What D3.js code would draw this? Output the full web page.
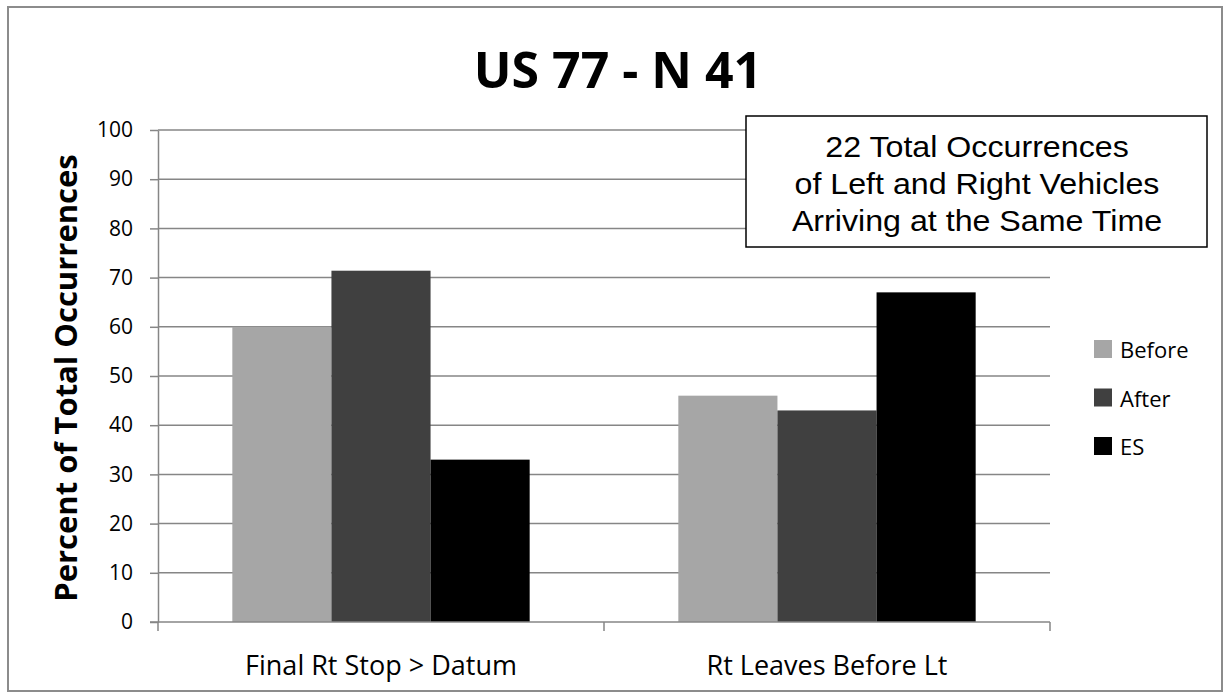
<!DOCTYPE html>
<html>
<head>
<meta charset="utf-8">
<script src="https://cdn.jsdelivr.net/npm/d3@7"></script>
<style>
  body { margin: 0; background: #fff; }
  svg { display: block; }
</style>
</head>
<body>
<svg width="1230" height="698"></svg>
<script>
// chart data
var categories = ['Final Rt Stop > Datum', 'Rt Leaves Before Lt'];
var seriesNames = ['Before', 'After', 'ES'];
var before = [60, 46];
var after = [71.4, 43];
var es = [33, 67];
var yTicks = [0, 10, 20, 30, 40, 50, 60, 70, 80, 90, 100];
var noteLines = ['22 Total Occurrences', 'of Left and Right Vehicles', 'Arriving at the Same Time'];

var colors = ['#a6a6a6', '#404040', '#000000'];
var seriesValues = [before, after, es];

var svg = d3.select('svg');
var font = '"Open Sans", "Noto Sans", sans-serif';

// outer frame
svg.append('rect')
  .attr('x', 8).attr('y', 7)
  .attr('width', 1214).attr('height', 684)
  .attr('fill', '#fff')
  .attr('stroke', '#8c8c8c')
  .attr('stroke-width', 2);

var plotL = 158, plotR = 1050, plotT = 130, plotB = 622;

var x0 = d3.scaleBand().domain(categories).range([plotL, plotR]).paddingInner(0).paddingOuter(0);
var x1 = d3.scaleBand().domain(seriesNames).range([0, x0.bandwidth()]).paddingInner(0).paddingOuter(0.75);
var y = d3.scaleLinear().domain([0, 100]).range([plotB, plotT]);

// y axis with tick marks
var yAxis = svg.append('g')
  .attr('transform', 'translate(' + plotL + ',0)')
  .call(d3.axisLeft(y).tickValues(yTicks).tickSize(8).tickSizeOuter(0).tickPadding(17));
yAxis.select('.domain').attr('stroke', '#868686').attr('stroke-width', 1.5);
yAxis.selectAll('.tick line').attr('stroke', '#868686').attr('stroke-width', 1.5);
yAxis.selectAll('.tick text')
  .attr('font-family', font)
  .attr('font-size', 21)
  .attr('fill', '#000');

// gridlines
svg.append('g').selectAll('line')
  .data(yTicks.filter(function(d) { return d > 0; }))
  .enter().append('line')
  .attr('x1', plotL).attr('x2', plotR)
  .attr('y1', function(d) { return y(d); })
  .attr('y2', function(d) { return y(d); })
  .attr('stroke', '#868686')
  .attr('stroke-width', 1.5);

// bars
var groups = svg.append('g').selectAll('g')
  .data(categories)
  .enter().append('g')
  .attr('transform', function(d) { return 'translate(' + x0(d) + ',0)'; });

groups.selectAll('rect')
  .data(function(d, i) {
    return seriesNames.map(function(s, j) { return { s: s, v: seriesValues[j][i], c: colors[j] }; });
  })
  .enter().append('rect')
  .attr('x', function(d) { return x1(d.s); })
  .attr('width', x1.bandwidth())
  .attr('y', function(d) { return y(d.v); })
  .attr('height', function(d) { return y(0) - y(d.v); })
  .attr('fill', function(d) { return d.c; });

// x axis
var xAxis = svg.append('g')
  .attr('transform', 'translate(0,' + plotB + ')');
xAxis.append('line')
  .attr('x1', plotL - 8).attr('x2', plotR)
  .attr('stroke', '#868686').attr('stroke-width', 1.5);
xAxis.selectAll('.xt')
  .data([plotL, plotL + x0.bandwidth(), plotR])
  .enter().append('line')
  .attr('x1', function(d) { return d; }).attr('x2', function(d) { return d; })
  .attr('y1', 0).attr('y2', 9)
  .attr('stroke', '#868686').attr('stroke-width', 1.5);
xAxis.selectAll('text')
  .data(categories)
  .enter().append('text')
  .attr('x', function(d) { return x0(d) + x0.bandwidth() / 2; })
  .attr('y', 53)
  .attr('text-anchor', 'middle')
  .attr('font-family', font)
  .attr('font-size', 27)
  .text(function(d) { return d; });

// title
svg.append('text')
  .attr('x', 618).attr('y', 88)
  .attr('text-anchor', 'middle')
  .attr('font-family', font)
  .attr('font-weight', 'bold')
  .attr('font-size', 50)
  .text('US 77 - N 41');

// y label
svg.append('text')
  .attr('transform', 'translate(77,378) rotate(-90)')
  .attr('text-anchor', 'middle')
  .attr('font-family', font)
  .attr('font-weight', 'bold')
  .attr('font-size', 31)
  .text('Percent of Total Occurrences');

// legend
var legend = svg.append('g').selectAll('g')
  .data(seriesNames)
  .enter().append('g')
  .attr('transform', function(d, i) { return 'translate(1094,' + (349 + i * 48.5) + ')'; });
legend.append('rect')
  .attr('x', 0).attr('y', -9)
  .attr('width', 18).attr('height', 18)
  .attr('fill', function(d, i) { return colors[i]; });
legend.append('text')
  .attr('x', 26).attr('y', 9)
  .attr('font-family', font)
  .attr('font-size', 22)
  .text(function(d) { return d; });

// note box
svg.append('rect')
  .attr('x', 746).attr('y', 116)
  .attr('width', 461).attr('height', 131)
  .attr('fill', '#fff')
  .attr('stroke', '#000')
  .attr('stroke-width', 1.5);
svg.append('g')
  .attr('transform', 'translate(977,0) scale(1.11,1)')
  .selectAll('text')
  .data(noteLines)
  .enter().append('text')
  .attr('x', 0)
  .attr('y', function(d, i) { return 157 + i * 37; })
  .attr('text-anchor', 'middle')
  .attr('font-family', '"Liberation Sans", Arial, sans-serif')
  .attr('font-size', 29)
  .text(function(d) { return d; });
</script>
</body>
</html>
